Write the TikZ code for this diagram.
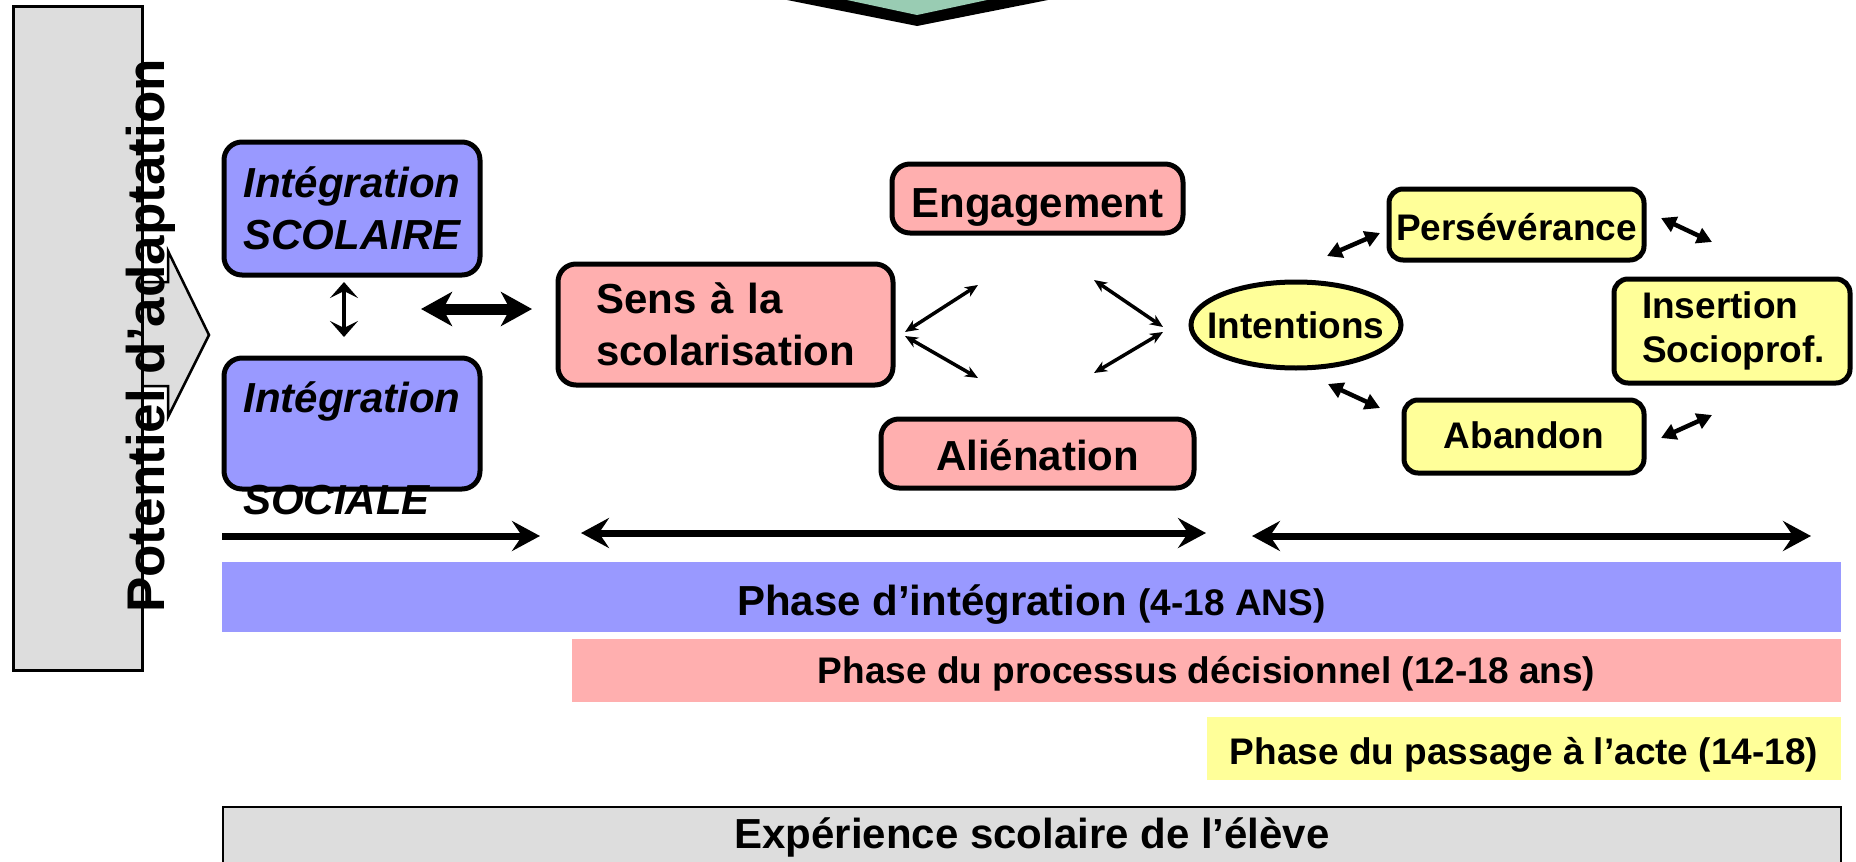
\documentclass[tikz,border=0pt]{standalone}
\usepackage{fontspec}
\setmainfont{Liberation Sans}
\usetikzlibrary{arrows.meta,shapes.geometric}
\definecolor{blueF}{RGB}{153,153,255}
\definecolor{pinkF}{RGB}{255,175,175}
\definecolor{yellowF}{RGB}{255,255,153}
\definecolor{grayF}{RGB}{221,221,221}
\definecolor{greenF}{RGB}{153,204,179}
\newcommand{\fsz}[2]{\fontsize{#1}{#2}\selectfont}
\begin{document}
\begin{tikzpicture}[x=1pt,y=-1pt,
  rbox/.style={draw=black, line width=5pt, rounded corners=18pt, inner sep=0pt, font=\fsz{42}{52}\bfseries},
  ybox/.style={rbox, fill=yellowF, rounded corners=14pt, font=\fsz{37}{44}\bfseries},
  band/.style={inner sep=0pt, font=\fsz{37}{37}\bfseries},
  tline/.style={line width=7pt, -{Stealth[length=28pt,width=30pt,inset=10pt]}},
  tline2/.style={line width=7pt, {Stealth[length=28pt,width=30pt,inset=10pt]}-{Stealth[length=28pt,width=30pt,inset=10pt]}},
  thin2/.style={line width=3.5pt, {Stealth[length=13pt,width=11pt,inset=4pt]}-{Stealth[length=13pt,width=11pt,inset=4pt]}},
  med2/.style={line width=4.5pt, {Triangle[length=15pt,width=16pt]}-{Triangle[length=15pt,width=16pt]}}
]
\useasboundingbox (0,0) rectangle (1856,862);

% top green chevron
\fill[black] (777,-2) -- (917,26) -- (1058,-2) -- cycle;
\fill[greenF] (833,-3) -- (917,15) -- (1001,-3) -- cycle;

% left gray column with arrow
\node[draw, line width=3pt, fill=grayF, inner sep=0pt, minimum width=129, minimum height=664] (pot) at (78,338.5) {};
\draw[fill=grayF, line width=2.5pt] (144,282) -- (168,282) -- (168,251) -- (209,335) -- (168,417) -- (168,386) -- (144,386);
\node[rotate=90, anchor=base, inner sep=0pt, font=\fsz{53}{53}\bfseries] (pott) at (164,336) {Potentiel d’adaptation};

% integration boxes
\node[rbox, fill=blueF, minimum width=256, minimum height=133, align=center, font=\fsz{42}{52}\bfseries\itshape] (isco) at (352,208.5) {Intégration\\SCOLAIRE};
\node[rbox, fill=blueF, minimum width=256, minimum height=131, text height=30pt, text depth=53pt, font=\fsz{42}{52}\bfseries\itshape] (isoc) at (352,423.5) {Intégration};
\node[anchor=base west, inner sep=0pt, font=\fsz{42}{52}\bfseries\itshape] (soc) at (243,514) {SOCIALE};

\coordinate (va) at (344,282); \coordinate (vb) at (344,337);
\draw[line width=4.5pt, {Stealth[length=16pt,width=28pt,inset=7pt]}-{Stealth[length=16pt,width=28pt,inset=7pt]}] (va) -- (vb);
\coordinate (ha) at (421,309); \coordinate (hb) at (532,309);
\draw[line width=11pt, {Stealth[length=31pt,width=34pt,inset=9pt]}-{Stealth[length=31pt,width=34pt,inset=9pt]}] (ha) -- (hb);

% pink boxes
\node[rbox, fill=pinkF, minimum width=335, minimum height=121, text width=259pt, inner xsep=38pt, align=left] (sens) at (725.5,324.5) {Sens à la\\scolarisation};
\node[rbox, fill=pinkF, minimum width=291, minimum height=69, text height=40pt, text depth=3pt] (eng) at (1037.5,198.5) {Engagement};
\node[rbox, fill=pinkF, minimum width=313, minimum height=69, text height=38pt, text depth=5pt] (ali) at (1037.5,453.5) {Aliénation};

\coordinate (s1) at (905,332); \coordinate (e1) at (978,285);
\coordinate (s2) at (905,336); \coordinate (e2) at (978,378);
\coordinate (s3) at (1094,280); \coordinate (e3) at (1163,327);
\coordinate (s4) at (1163,332); \coordinate (e4) at (1094,373);
\draw[thin2] (s1) -- (e1);
\draw[thin2] (s2) -- (e2);
\draw[thin2] (s3) -- (e3);
\draw[thin2] (s4) -- (e4);

% yellow
\node[ellipse, draw, line width=5pt, fill=yellowF, minimum width=210, minimum height=86, inner xsep=-15pt, inner ysep=0pt, text height=32pt, text depth=6pt, font=\fsz{37}{37}\bfseries] (int) at (1296,325) {Intentions};
\node[ybox, minimum width=255, minimum height=71, text height=36pt, text depth=5pt] (pers) at (1516.5,224.5) {Persévérance};
\node[ybox, minimum width=240, minimum height=73, text height=33pt, text depth=10pt] (aban) at (1524,436.5) {Abandon};
\node[ybox, minimum width=236, minimum height=104, text width=180pt, inner xsep=28pt, align=left] (ins) at (1732,331) {Insertion\\Socioprof.};

\coordinate (r1a) at (1327,256); \coordinate (r1b) at (1380,233);
\coordinate (r2a) at (1661,218); \coordinate (r2b) at (1712,242);
\coordinate (r3a) at (1328,384); \coordinate (r3b) at (1380,408);
\coordinate (r4a) at (1661,438); \coordinate (r4b) at (1712,415);
\draw[med2] (r1a) -- (r1b);
\draw[med2] (r2a) -- (r2b);
\draw[med2] (r3a) -- (r3b);
\draw[med2] (r4a) -- (r4b);

% timeline arrows
\coordinate (t1a) at (222,536); \coordinate (t1b) at (540,536);
\coordinate (t2a) at (581,533); \coordinate (t2b) at (1206,533);
\coordinate (t3a) at (1252,536); \coordinate (t3b) at (1811,536);
\draw[tline] (t1a) -- (t1b);
\draw[tline2] (t2a) -- (t2b);
\draw[tline2] (t3a) -- (t3b);

% bands
\node[band, fill=blueF, minimum width=1619, minimum height=70, text height=40pt, text depth=4pt, font=\fsz{42}{42}\bfseries] (ph1) at (1031.5,597) {Phase d’intégration {\fsz{37}{37}(4-18 ANS)}};
\node[band, fill=pinkF, minimum width=1269, minimum height=63, text height=35pt, text depth=10pt] (ph2) at (1206.5,670.5) {Phase du processus décisionnel (12-18 ans)};
\node[band, fill=yellowF, minimum width=634, minimum height=63, text height=36pt, text depth=5pt] (ph3) at (1524,748.5) {Phase du passage à l’acte (14-18)};
\node[draw, line width=2.5pt, fill=grayF, inner sep=0pt, minimum width=1618, minimum height=93, text height=30pt, text depth=41pt, font=\fsz{42}{42}\bfseries] (exp) at (1032,853.5) {Expérience scolaire de l’élève};
\end{tikzpicture}
\end{document}
